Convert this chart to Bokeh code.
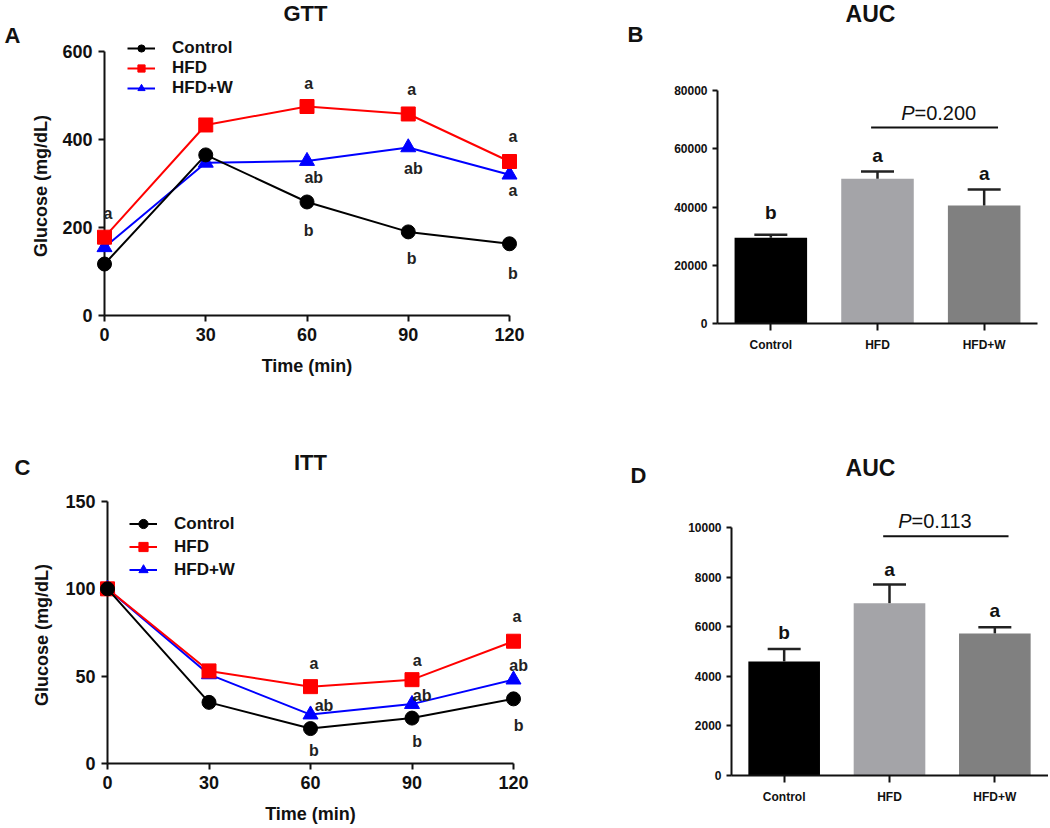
from bokeh.plotting import figure
from bokeh.models import Range1d, Legend, LegendItem, Whisker, TeeHead, ColumnDataSource, FixedTicker
from bokeh.layouts import column, row
from bokeh.embed import file_html
from bokeh.resources import INLINE
from bokeh.core.properties import value

# ---------------- data ----------------
time_min = [0, 30, 60, 90, 120]
series_names = ["Control", "HFD", "HFD+W"]

gtt_control = [117, 365, 258, 190, 163]
gtt_hfd = [178, 433, 475, 458, 350]
gtt_hfdw = [155, 347, 351, 382, 320]

itt_control = [100, 35, 20, 26, 37]
itt_hfd = [100, 53, 44, 48, 70]
itt_hfdw = [100, 51, 28, 34, 48]

gtt_yticks = [0, 200, 400, 600]
itt_yticks = [0, 50, 100, 150]

gtt_letters = ["a", "a", "ab", "b", "a", "ab", "b", "a", "a", "b"]
gtt_letter_x = [1, 60.5, 62, 60.5, 91, 91.5, 91, 121, 121, 121]
gtt_letter_y = [231, 527, 313, 193, 513, 334, 129, 406, 284, 95]

itt_letters = ["a", "ab", "b", "a", "ab", "b", "a", "ab", "b"]
itt_letter_x = [61, 64, 61, 91.5, 93, 91.5, 121, 121.5, 121.5]
itt_letter_y = [57, 33, 7.5, 59, 39, 12.6, 84, 56, 22]

groups = ["Control", "HFD", "HFD+W"]
gtt_auc_mean = [29400, 49700, 40500]
gtt_auc_sem = [1100, 2500, 5500]
gtt_auc_letters = ["b", "a", "a"]
gtt_auc_letter_y = [38100, 57700, 51600]
gtt_auc_yticks = [0, 20000, 40000, 60000, 80000]
gtt_p_value = "0.200"
gtt_p_y = 67300

itt_auc_mean = [4600, 6950, 5730]
itt_auc_sem = [500, 750, 250]
itt_auc_letters = ["b", "a", "a"]
itt_auc_letter_y = [5780, 8290, 6650]
itt_auc_yticks = [0, 2000, 4000, 6000, 8000, 10000]
itt_p_value = "0.113"
itt_p_y = 9650

FONT = "Liberation Sans"
INK = "#111111"
line_colors = {"Control": "#000000", "HFD": "#ff0000", "HFD+W": "#0000ff"}
markers = {"Control": "circle", "HFD": "square", "HFD+W": "triangle"}
bar_colors = ["#000000", "#a4a4a8", "#808080"]


class Panel:
    """Frame fills the whole figure; data ranges derived from pixel anchors."""

    def __init__(self, fx0, fy0, fw, fh, xa, xb, ya, yb):
        self.fx0, self.fy0, self.fw, self.fh = fx0, fy0, fw, fh
        self.sx = (xb[1] - xa[1]) / (xb[0] - xa[0])
        self.sy = (yb[1] - ya[1]) / (yb[0] - ya[0])
        self.xa, self.ya = xa, ya

    def dx(self, px):
        return self.xa[1] + (px - self.xa[0]) * self.sx

    def dy(self, py):
        return self.ya[1] + (py - self.ya[0]) * self.sy

    def figure(self):
        p = figure(width=self.fw, height=self.fh,
                   x_range=Range1d(self.dx(self.fx0), self.dx(self.fx0 + self.fw)),
                   y_range=Range1d(self.dy(self.fy0 + self.fh), self.dy(self.fy0)),
                   output_backend="svg", toolbar_location=None,
                   min_border=0, min_border_left=0, min_border_right=0,
                   min_border_top=0, min_border_bottom=0)
        p.grid.visible = False
        p.outline_line_color = None
        return p


def style_axes(p, tick_size):
    for ax in (p.xaxis[0], p.yaxis[0]):
        ax.fixed_location = 0
        ax.axis_line_width = 2
        ax.axis_line_color = INK
        ax.major_tick_line_width = 2
        ax.major_tick_line_color = INK
        ax.major_tick_out = 6
        ax.major_tick_in = 0
        ax.minor_tick_line_color = None
        ax.major_label_text_font = FONT
        ax.major_label_text_font_size = tick_size
        ax.major_label_text_font_style = "bold"
        ax.major_label_text_color = INK
        ax.major_label_standoff = 6
        ax.axis_label_text_font = FONT
        ax.axis_label_text_font_style = "bold"
        ax.axis_label_text_font_size = "18px"
        ax.axis_label_text_color = INK


def put_text(p, pan, px, py, text, size, style="bold", align="center"):
    p.text(x=[pan.dx(px)], y=[pan.dy(py)], text=[text], text_font=value(FONT),
           text_font_size=size, text_font_style=style, text_align=align,
           text_baseline="middle", text_color=INK, level="overlay")


def line_panel(pan, ymax, yticks, data, letters, lx, ly, title, title_xy, letter, letter_xy,
               item_h, legend_xy, ylab_standoff):
    p = pan.figure()
    style_axes(p, "18px")
    p.xaxis.ticker = FixedTicker(ticks=time_min)
    p.yaxis.ticker = FixedTicker(ticks=yticks)
    p.xaxis[0].bounds = (0, 120)
    p.yaxis[0].bounds = (0, ymax)
    p.xaxis.axis_label = "Time (min)"
    p.yaxis.axis_label = "Glucose  (mg/dL)"
    p.xaxis.axis_label_standoff = 12
    p.yaxis.axis_label_standoff = ylab_standoff

    items = {}
    for name in ["HFD+W", "HFD", "Control"]:
        vals = data[name]
        c = line_colors[name]
        rl = p.line(time_min, vals, line_color=c, line_width=2, level="overlay")
        rs = p.scatter(time_min, vals, marker=markers[name], size=14 if name != "HFD+W" else 15,
                       fill_color=c, line_color=c, level="overlay")
        items[name] = LegendItem(label=name, renderers=[rl, rs])

    src = ColumnDataSource(dict(x=lx, y=ly, t=letters))
    p.text(x="x", y="y", text="t", source=src, text_font=value(FONT), text_font_size="16px",
           text_font_style="bold", text_align="center", text_baseline="middle",
           text_color="#222222", level="overlay")

    legend = Legend(items=[items[n] for n in series_names], location=legend_xy,
                    label_text_font=FONT, label_text_font_size="17px", label_text_font_style="bold",
                    label_text_color=INK, glyph_width=28, glyph_height=item_h,
                    label_height=item_h, spacing=0, padding=0, margin=0, label_standoff=17,
                    background_fill_alpha=0, border_line_alpha=0)
    p.add_layout(legend)

    put_text(p, pan, title_xy[0], title_xy[1], title, "22px")
    put_text(p, pan, letter_xy[0], letter_xy[1], letter, "22px")
    return p


def bar_panel(pan, ymax, xmax_axis, yticks, means, sems, letters, letter_y, p_value, p_y,
              title, title_xy, letter, letter_xy, p_text_xy):
    p = pan.figure()
    style_axes(p, "12px")
    xs = [i + 0.5 for i in range(len(groups))]
    p.xaxis.ticker = FixedTicker(ticks=xs)
    p.xaxis.major_label_overrides = {x: g for x, g in zip(xs, groups)}
    p.xaxis[0].major_tick_out = 7
    p.xaxis[0].major_label_standoff = 7
    p.yaxis[0].major_tick_out = 5
    p.yaxis[0].major_label_standoff = 5
    p.yaxis.ticker = FixedTicker(ticks=yticks)
    p.xaxis[0].bounds = (0, xmax_axis)
    p.yaxis[0].bounds = (0, ymax)

    src = ColumnDataSource(dict(x=xs, top=means, upper=[m + s for m, s in zip(means, sems)],
                                c=bar_colors, ly=letter_y, t=letters))
    p.vbar(x="x", top="top", width=0.68, fill_color="c", line_color=None, source=src)
    w = Whisker(base="x", upper="upper", lower="top", source=src, dimension="height",
                line_color="#222222", line_width=2.5, level="overlay",
                upper_head=TeeHead(size=33, line_color="#222222", line_width=2.5),
                lower_head=None)
    p.add_layout(w)
    p.text(x="x", y="ly", text="t", source=src, text_font=value(FONT), text_font_size="19px",
           text_font_style="bold", text_align="center", text_baseline="middle",
           text_color=INK, level="overlay")

    # bracket HFD vs HFD+W
    p.segment(x0=[xs[1] - 0.06], y0=[p_y], x1=[xs[2] + 0.13], y1=[p_y], line_color=INK,
              line_width=2, level="overlay")
    put_text(p, pan, p_text_xy[0], p_text_xy[1], "P", "20px", style="italic", align="right")
    put_text(p, pan, p_text_xy[0], p_text_xy[1], "=" + p_value, "20px", style="normal", align="left")

    put_text(p, pan, title_xy[0], title_xy[1], title, "23px")
    put_text(p, pan, letter_xy[0], letter_xy[1], letter, "22px")
    return p


panA = Panel(0, 0, 550, 395, (104, 0), (509, 120), (315, 0), (51, 600))
panB = Panel(550, 0, 498, 395, (717, 0), (1037, 3), (323, 0), (90, 80000))
panC = Panel(0, 395, 550, 431, (107, 0), (513, 120), (763, 0), (501, 150))
panD = Panel(550, 395, 498, 431, (731, 0), (1047, 3), (775, 0), (527, 10000))

pA = line_panel(panA, 600, gtt_yticks, {"Control": gtt_control, "HFD": gtt_hfd, "HFD+W": gtt_hfdw},
                gtt_letters, gtt_letter_x, gtt_letter_y, "GTT", (305, 13), "A", (12, 35),
                18, (127, 297), 8)
pB = bar_panel(panB, 80000, 3, gtt_auc_yticks, gtt_auc_mean, gtt_auc_sem, gtt_auc_letters,
               gtt_auc_letter_y, gtt_p_value, gtt_p_y, "AUC", (870, 13), "B", (635, 34), (914, 112))
pC = line_panel(panC, 150, itt_yticks, {"Control": itt_control, "HFD": itt_hfd, "HFD+W": itt_hfdw},
                itt_letters, itt_letter_x, itt_letter_y, "ITT", (310, 462), "C", (22, 467),
                23, (129, 245), 10)
pD = bar_panel(panD, 10000, 3.05, itt_auc_yticks, itt_auc_mean, itt_auc_sem, itt_auc_letters,
               itt_auc_letter_y, itt_p_value, itt_p_y, "AUC", (870, 467), "D", (638, 475), (911, 520))

layout = column(row(pA, pB), row(pC, pD))
open("out.html", "w").write(file_html(layout, INLINE))
